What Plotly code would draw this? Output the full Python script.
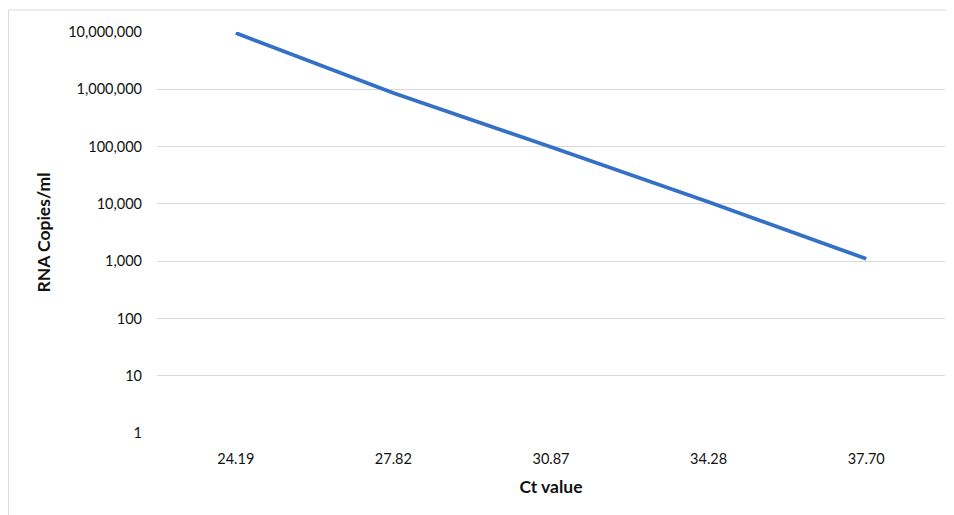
import plotly.graph_objects as go

ct_values = ["24.19", "27.82", "30.87", "34.28", "37.70"]
rna_copies = [9600000, 860000, 98000, 10800, 1100]
y_tick_vals = [1, 10, 100, 1000, 10000, 100000, 1000000, 10000000]
y_tick_text = ["1", "10", "100", "1,000", "10,000", "100,000", "1,000,000", "10,000,000"]

# page has an 8px body margin, so the figure is sized to fit the 954x515 window
W, H = 946, 507
ml, mr, mt, mb = 149, 9, 24, 82
pw, ph = W - ml - mr, H - mt - mb

def px_x(x):
    return (x - ml) / pw

def px_y(y):
    return (H - mb - y) / ph

fig = go.Figure()
fig.add_trace(go.Scatter(
    x=ct_values, y=rna_copies, mode="lines",
    line=dict(color="#3370C6", width=3.8),
    hoverinfo="x+y",
))

font_family = "Lato, 'Open Sans', sans-serif"
fig.update_layout(
    width=W, height=H,
    margin=dict(l=ml, r=mr, t=mt, b=mb),
    paper_bgcolor="white", plot_bgcolor="white",
    showlegend=False,
    font=dict(family=font_family, size=14, color="#111111"),
    xaxis=dict(
        type="category", range=[-0.5, 4.5],
        showgrid=False, zeroline=False, showline=False,
        ticks="", tickfont=dict(size=14.5, color="#111111"),
        ticklabelstandoff=15,
        title=dict(text="<b>Ct value</b>", font=dict(size=17.5, color="#111111"), standoff=15),
    ),
    yaxis=dict(
        type="log", range=[0, 7],
        tickvals=y_tick_vals, ticktext=y_tick_text,
        showgrid=True, gridcolor="#D9D9D9", gridwidth=1,
        zeroline=False, showline=False, ticks="",
        tickfont=dict(size=14.5, color="#111111"),
        ticklabelstandoff=14,
        title=dict(text="<b>RNA Copies/ml</b>", font=dict(size=17.5, color="#111111"), standoff=13),
    ),
    shapes=[dict(
        type="rect", xref="paper", yref="paper",
        x0=px_x(0.5), x1=px_x(952), y0=px_y(515), y1=px_y(2),
        line=dict(color="#D9D9D9", width=1), fillcolor="rgba(0,0,0,0)",
        layer="below",
    )],
)

fig.write_html("out.html")
